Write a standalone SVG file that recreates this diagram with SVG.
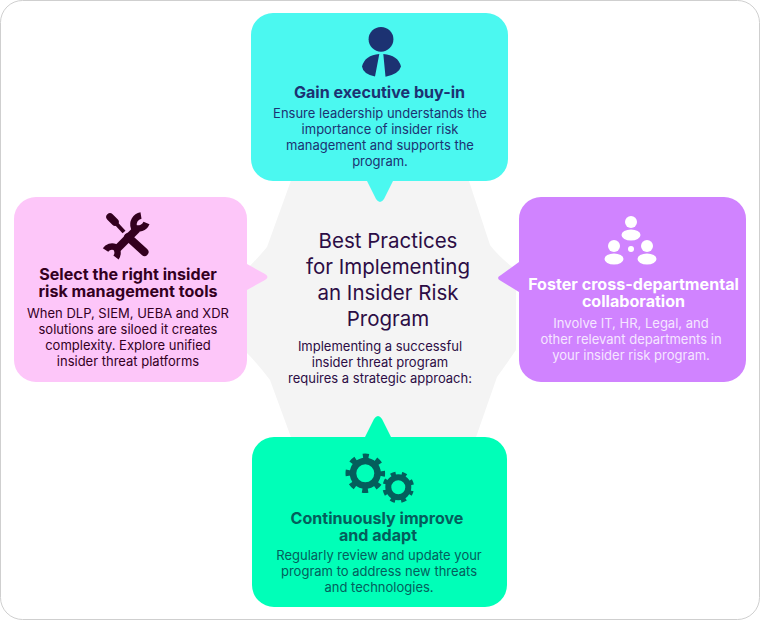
<svg xmlns="http://www.w3.org/2000/svg" width="760" height="620" viewBox="0 0 760 620">
<style>
text{font-family:"Inter","Liberation Sans",sans-serif;text-anchor:middle}
.h{font-size:16.1px;font-weight:700}
.b{font-size:13px;font-weight:400}
.t{font-size:20.5px;font-weight:400}
.c{font-size:13px}
.navy{fill:#1c3272}.plum{fill:#33001f}.wht{fill:#fff}.teal{fill:#045e5c}.ink{fill:#2c0d45}
</style>
<rect x="0.5" y="0.5" width="759" height="619" rx="22" fill="#fff" stroke="#cfcfcf"/>
<g id="center">
<path d="M293 175L467 175L490 245Q498 256 516 270L516 350Q505 366 497 377L475 440L292 440L270 380Q258 364 246 352L246 270Q258 258 267 247Z" fill="#f4f4f4"/>
<text class="t ink" x="388" y="248">Best Practices</text>
<text class="t ink" x="388" y="274">for Implementing</text>
<text class="t ink" x="388" y="300">an Insider Risk</text>
<text class="t ink" x="388" y="326">Program</text>
<text class="c ink" x="380" y="351">Implementing a successful</text>
<text class="c ink" x="380" y="367">insider threat program</text>
<text class="c ink" x="380" y="383">requires a strategic approach:</text>
</g>
<g id="top">
<path d="M273 13H486A22 22 0 0 1 508 35V159A22 22 0 0 1 486 181H393L384 199Q380 205 376 199L367 181H273A22 22 0 0 1 251 159V35A22 22 0 0 1 273 13Z" fill="#4bf8f0"/>
<circle cx="381" cy="39.300" r="12.400" fill="#1c3272"/>
<path d="M379.300 54L375 76.500Q363 74 362 66.500Q365 55 379.300 54ZM383.300 54Q398 55 401 66.500Q399 74 385.500 76.700Z" fill="#1c3272"/>
<text class="h navy" x="379.500" y="98">Gain executive buy-in</text>
<text class="b navy" x="380" y="118">Ensure leadership understands the</text>
<text class="b navy" x="380" y="134">importance of insider risk</text>
<text class="b navy" x="380" y="150">management and supports the</text>
<text class="b navy" x="380" y="166">program.</text>
</g>
<g id="left">
<path d="M36 197H225A22 22 0 0 1 247 219V264L265 274Q270 277 265 280L247 290V360A22 22 0 0 1 225 382H36A22 22 0 0 1 14 360V219A22 22 0 0 1 36 197Z" fill="#fdc6f9"/>
<g fill="none" stroke="#33001f">
<path d="M110 217L115 222" stroke-width="7.500" stroke-linecap="round"/>
<path d="M113 220L124 232" stroke-width="4"/>
<path d="M128 237L144.500 252" stroke-width="8" stroke-linecap="round"/>
<path d="M115 251L137 229" stroke-width="8"/>
<path d="M105.500 250A8 8 0 0 1 115 247A8 8 0 0 1 116 257.500" stroke-width="6.500"/>
<path d="M141 215.500A9 9 0 0 0 134 227.500A9 9 0 0 0 146.500 223" stroke-width="6.500"/>
</g>
<text class="plum h" x="128" y="280"><tspan x="128">Select the right insider</tspan><tspan x="128" dy="17">risk management tools</tspan></text>
<text class="b plum" x="128" y="318">When DLP, SIEM, UEBA and XDR</text>
<text class="b plum" x="128" y="334">solutions are siloed it creates</text>
<text class="b plum" x="128" y="350">complexity. Explore unified</text>
<text class="b plum" x="128" y="366">insider threat platforms</text>
</g>
<g id="right">
<path d="M541 197H724A22 22 0 0 1 746 219V360A22 22 0 0 1 724 382H541A22 22 0 0 1 519 360V292L501 281Q495 278 501 275L519 262V219A22 22 0 0 1 541 197Z" fill="#d083ff"/>
<g fill="#fff">
<circle cx="631" cy="222" r="6"/><ellipse cx="631" cy="235" rx="9.500" ry="5.500"/>
<circle cx="614" cy="246" r="6"/><ellipse cx="614" cy="259" rx="9.500" ry="5.500"/>
<circle cx="647" cy="246" r="6"/><ellipse cx="647" cy="259" rx="9.500" ry="5.500"/>
<circle cx="631" cy="249" r="3"/>
</g>
<text class="h wht" x="633.500" y="290"><tspan x="633.500">Foster cross-departmental</tspan><tspan x="633.500" dy="17">collaboration</tspan></text>
<text class="b wht" x="631" y="328" opacity=".8">Involve IT, HR, Legal, and</text>
<text class="b wht" x="631" y="344" opacity=".8">other relevant departments in</text>
<text class="b wht" x="631" y="360" opacity=".8">your insider risk program.</text>
</g>
<g id="bottom">
<path d="M274 437H365L374 419Q378 413 382 419L391 437H485A22 22 0 0 1 507 459V585A22 22 0 0 1 485 607H274A22 22 0 0 1 252 585V459A22 22 0 0 1 274 437Z" fill="#00ffb8"/>
<g fill="none" stroke="#045e5c">
<circle cx="365.300" cy="473.300" r="12.300" stroke-width="6.600"/>
<circle cx="365.300" cy="473.300" r="17.300" stroke-width="5" stroke-dasharray="6 7.588" stroke-dashoffset="3"/>
<circle cx="398.300" cy="487.300" r="10" stroke-width="6"/>
<circle cx="398.300" cy="487.300" r="14" stroke-width="3.600" stroke-dasharray="5 5.996" transform="rotate(22.500 398.300 487.300)" stroke-dashoffset="2.500"/>
</g>
<text class="h teal" x="377" y="524"><tspan x="377">Continuously improve</tspan><tspan x="378" dy="17">and adapt</tspan></text>
<text class="b teal" x="379" y="560">Regularly review and update your</text>
<text class="b teal" x="379" y="576">program to address new threats</text>
<text class="b teal" x="379" y="592">and technologies.</text>
</g>
</svg>
